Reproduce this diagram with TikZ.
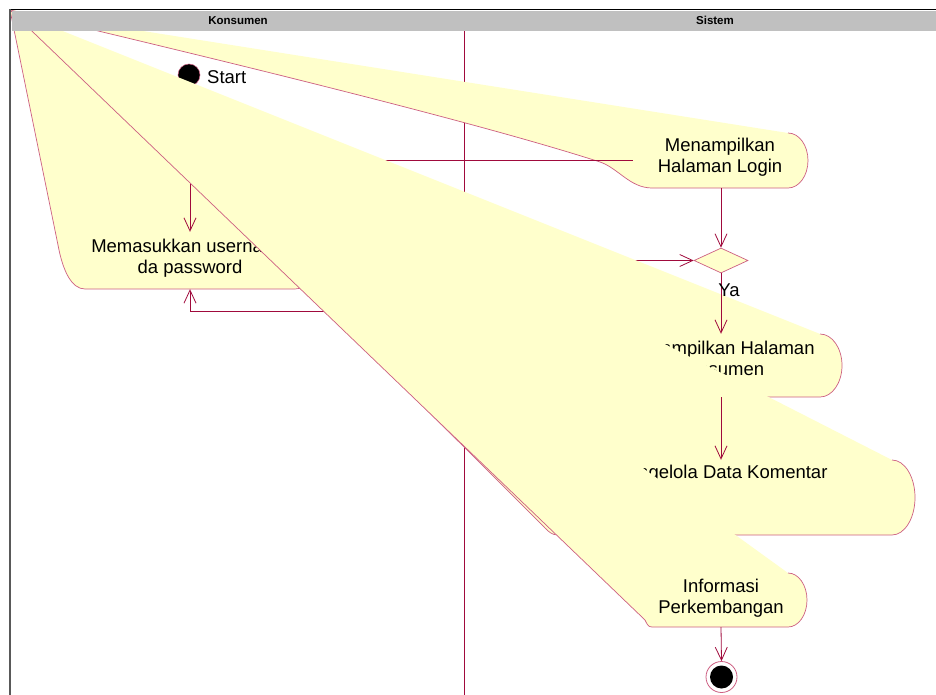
\documentclass[tikz,border=0pt]{standalone}
\usepackage{fontspec}
\setmainfont{Liberation Sans}
\usetikzlibrary{arrows.meta,shapes.geometric}
\definecolor{rfill}{RGB}{255,255,204}
\definecolor{rline}{RGB}{205,95,130}
\definecolor{rconn}{RGB}{160,10,60}
\definecolor{hdr}{RGB}{192,192,192}
\begin{document}
\begin{tikzpicture}[x=1pt,y=-1pt,
  wline/.style={draw=rline, line width=0.7pt},
  conn/.style={draw=rconn, line width=0.8pt, -{Straight Barb[length=13pt,width=12pt]}},
  boxn/.style={rectangle, inner sep=0pt},
  txt/.style={font=\fontsize{18.5pt}{21pt}\selectfont, align=center, inner sep=0pt, text=black},
  hdrtxt/.style={font=\bfseries\fontsize{11.5pt}{13pt}\selectfont, inner sep=0pt, text=black}]
\useasboundingbox (0,0) rectangle (936,695);
\fill[white] (0,0) rectangle (936,695);

% paths of the (glitched) activity shapes
\def\pathA{(295,232) arc[start angle=90,end angle=-90,x radius=20pt,y radius=28.5pt] -- (85,289) .. controls (72,289) and (63,272) .. (58,245) -- (10,10)}
\def\pathB{(788,133) arc[start angle=90,end angle=-90,x radius=20pt,y radius=27.5pt] -- (652,188) .. controls (630,188) and (618,168) .. (600,162) .. controls (470,120) and (200,55) .. (10,10)}
\def\pathC{(820,334) arc[start angle=90,end angle=-90,x radius=22pt,y radius=31.5pt] -- (620,397) .. controls (600,397) and (585,382) .. (560,366) .. controls (420,290) and (200,120) .. (10,10)}
\def\pathD{(892,460) arc[start angle=90,end angle=-90,x radius=23pt,y radius=37.5pt] -- (558,535) .. controls (552,535) and (549,532) .. (545,528) .. controls (290,272) and (110,100) .. (10,10)}
\def\pathE{(788,573) arc[start angle=90,end angle=-90,x radius=19pt,y radius=27pt] -- (652,627) .. controls (648,627) and (647,624) .. (645,620) -- (10,10)}

% invisible box nodes for the connectors
\node[boxn, minimum width=250pt, minimum height=57pt] (a) at (190,260.5) {};
\node[boxn, minimum width=176pt, minimum height=55pt] (b) at (721,160.5) {};
\node[boxn, minimum width=244pt, minimum height=63pt] (c) at (721,365.5) {};
\node[boxn, minimum width=390pt, minimum height=75pt] (d) at (721,497.5) {};
\node[boxn, minimum width=174pt, minimum height=54pt] (e) at (721,600) {};
\coordinate (loopc) at (190,311);

\begin{scope}
\clip (10,10) rectangle (936,695);
% lane divider
\draw[rconn, line width=1pt] (464,31) -- (464,695);

% A
\fill[rfill] (10,10) -- \pathA -- cycle;
\draw[wline] \pathA;
\node[txt] (ta) at (190,258) {Memasukkan username\\da password};

% B
\fill[rfill] (10,10) -- \pathB -- cycle;
\draw[wline] \pathB;
\node[txt] (tb) at (720,157.5) {Menampilkan\\Halaman Login};

% start
\node[circle, fill=black, draw=rline, line width=0.5pt, minimum size=22pt, inner sep=0pt] (st) at (189,75) {};
\node[txt, anchor=west] (stl) at (207,77) {Start};

% decision
\node[diamond, draw=rline, fill=rfill, line width=0.7pt, minimum width=54pt, minimum height=25pt, inner sep=0pt] (dia) at (721,260.5) {};

% connectors later hidden
\draw[conn] (b.west) -| (a.north);
\draw[conn] (a.east) -- (dia.west);
\draw[conn] (dia.south) |- (loopc) -- (a.south);

% C
\fill[rfill] (10,10) -- \pathC -- cycle;
\draw[wline] \pathC;
\node[txt] (tc) at (720,358.5) {Menampilkan Halaman\\Konsumen};

\draw[conn] (b.south) -- (dia.north);
\draw[conn] (dia.south) -- (c.north);
\node[txt] (ya) at (729,290) {Ya};

% D
\fill[rfill] (10,10) -- \pathD -- cycle;
\draw[wline] \pathD;
\node[txt] (td) at (720,474) {Mengelola Data Komentar};
\draw[conn] (c.south) -- (d.north);

% E
\fill[rfill] (10,10) -- \pathE -- cycle;
\draw[wline] \pathE;
\node[txt] (te) at (721,598) {Informasi\\Perkembangan};

% end
\node[circle, draw=rline, line width=0.8pt, fill=white, minimum size=31pt, inner sep=0pt] (fin) at (721.5,677) {};
\node[circle, fill=black, minimum size=23pt, inner sep=0pt] (fincore) at (721.5,677) {};
\draw[conn] (e.south) -- (fin.north);
\end{scope}

% header and frame
\fill[hdr] (12,11) rectangle (936,31);
\draw[black, line width=1pt] (10,9.5) -- (936,9.5);
\draw[black!65, line width=1.5pt] (10,9.5) -- (10,695);
\node[hdrtxt] (hk) at (238,20.5) {Konsumen};
\node[hdrtxt] (hs) at (715,20.5) {Sistem};
\end{tikzpicture}
\end{document}
